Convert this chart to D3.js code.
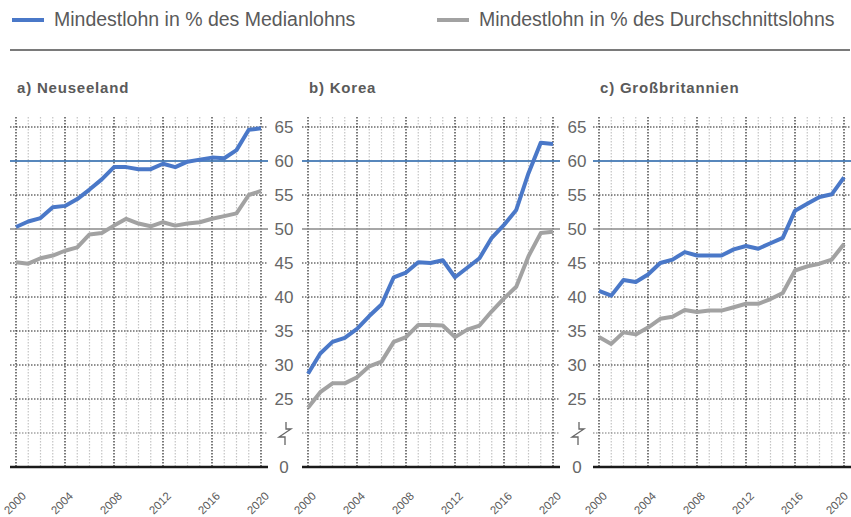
<!DOCTYPE html>
<html>
<head>
<meta charset="utf-8">
<script src="https://cdn.jsdelivr.net/npm/d3@7"></script>
<style>
  body { margin: 0; background: #fff; }
  svg { display: block; }
</style>
</head>
<body>
<svg id="chart" width="851" height="517"></svg>
<script>
document.addEventListener('DOMContentLoaded', () => {
    const svg = d3.select("#chart");

    const years = d3.range(2000, 2021);
    const yearLabels = [2000, 2004, 2008, 2012, 2016, 2020];
    const seriesNames = ["Mindestlohn in % des Medianlohns", "Mindestlohn in % des Durchschnittslohns"];
    const panelTitles = ["a) Neuseeland", "b) Korea", "c) Großbritannien"];

    // values, 2000..2020
    const nzMedian = [50.3, 51.1, 51.6, 53.2, 53.4, 54.4, 55.8, 57.3, 59.1, 59.1, 58.8, 58.8, 59.6, 59.1, 59.9, 60.2, 60.5, 60.4, 61.6, 64.6, 64.8];
    const nzMean   = [45.1, 44.9, 45.7, 46.1, 46.8, 47.3, 49.2, 49.4, 50.5, 51.5, 50.8, 50.4, 51.0, 50.5, 50.8, 51.0, 51.5, 51.9, 52.3, 55.0, 55.6];
    const krMedian = [28.7, 31.7, 33.4, 34.0, 35.3, 37.2, 38.9, 42.9, 43.6, 45.1, 45.0, 45.4, 42.9, 44.3, 45.7, 48.7, 50.6, 52.8, 58.2, 62.7, 62.5];
    const krMean   = [23.7, 26.0, 27.3, 27.3, 28.2, 29.8, 30.5, 33.4, 34.1, 35.9, 35.9, 35.8, 34.1, 35.2, 35.8, 37.9, 39.8, 41.5, 46.0, 49.4, 49.6];
    const gbMedian = [40.9, 40.2, 42.5, 42.2, 43.3, 45.0, 45.5, 46.6, 46.1, 46.1, 46.1, 47.0, 47.5, 47.1, 47.9, 48.7, 52.7, 53.7, 54.7, 55.1, 57.6];
    const gbMean   = [34.1, 33.1, 34.8, 34.5, 35.5, 36.8, 37.1, 38.1, 37.8, 38.0, 38.0, 38.5, 39.0, 39.0, 39.7, 40.6, 43.9, 44.5, 44.9, 45.5, 47.8];

    // axis break: the slot at 15 shows "0", the slot at 20 is the break
    const yTicks = [15, 20, 25, 30, 35, 40, 45, 50, 55, 60, 65];
    const yTickLabel = v => v === 15 ? "0" : v === 20 ? "" : String(v);

    const panels = [
        { title: panelTitles[0], median: nzMedian, mean: nzMean, x0: 16 },
        { title: panelTitles[1], median: krMedian, mean: krMean, x0: 308 },
        { title: panelTitles[2], median: gbMedian, mean: gbMean, x0: 599 }
    ];

    const blue = "#4a78c8";
    const grey = "#a2a2a2";
    const textColor = "#5a5a5a";
    const sans = "'Liberation Sans', Arial, sans-serif";

    const y = d3.scaleLinear().domain([15, 65]).range([467, 127]);
    const plotTop = 117;

    // legend
    const legendItems = [
        { name: seriesNames[0], color: blue, x: 12 },
        { name: seriesNames[1], color: grey, x: 437 }
    ];
    const legend = svg.append("g");
    legendItems.forEach(d => {
        legend.append("line")
            .attr("x1", d.x).attr("x2", d.x + 32)
            .attr("y1", 20).attr("y2", 20)
            .attr("stroke", d.color).attr("stroke-width", 4);
        legend.append("text")
            .attr("x", d.x + 42).attr("y", 26)
            .attr("fill", textColor)
            .style("font-family", sans)
            .style("font-size", "19.5px")
            .text(d.name);
    });
    svg.append("line")
        .attr("x1", 10).attr("x2", 850)
        .attr("y1", 50).attr("y2", 50)
        .attr("stroke", "#7a7a7a").attr("stroke-width", 2);

    panels.forEach(p => {
        const x = d3.scaleLinear().domain([2000, 2020]).range([p.x0, p.x0 + 245]);
        const left = p.x0 - 6, right = p.x0 + 252;
        const g = svg.append("g");

        g.append("text")
            .attr("x", p.x0 + 1).attr("y", 93)
            .attr("fill", textColor)
            .style("font-family", sans)
            .style("font-weight", "bold")
            .style("font-size", "15px")
            .style("letter-spacing", "0.8px")
            .text(p.title);

        // vertical grid, one per year
        g.selectAll(".vgrid").data(years).enter().append("line")
            .attr("x1", d => x(d)).attr("x2", d => x(d))
            .attr("y1", plotTop).attr("y2", y(15))
            .attr("stroke", d => yearLabels.includes(d) ? "#222" : "#c4c4c4")
            .attr("stroke-width", 1.2)
            .attr("stroke-dasharray", "1.5,1.5");

        // horizontal grid
        g.selectAll(".hgrid").data(yTicks.filter(v => v !== 15)).enter().append("line")
            .attr("x1", left).attr("x2", right)
            .attr("y1", d => y(d)).attr("y2", d => y(d))
            .attr("stroke", d => d === 60 ? "#1f5fa6" : d === 50 ? "#8a8a8a" : d === 20 ? "#777" : "#222")
            .attr("stroke-width", d => (d === 60 || d === 50) ? 1.6 : 1.2)
            .attr("stroke-dasharray", d => (d === 60 || d === 50) ? null : "1.5,1.5");

        g.append("line")
            .attr("x1", left).attr("x2", right)
            .attr("y1", y(15)).attr("y2", y(15))
            .attr("stroke", "#1a1a1a").attr("stroke-width", 2.5);

        // year labels, kept inside the canvas
        g.selectAll(".year").data(yearLabels).enter().append("text")
            .attr("transform", d => `translate(${Math.max(15, Math.min(837, x(d) - 3))},${503}) rotate(-45)`)
            .attr("text-anchor", "middle")
            .attr("dy", "0.35em")
            .attr("fill", textColor)
            .style("font-family", sans)
            .style("font-size", "11.5px")
            .text(d => d);

        const line = d3.line()
            .x((d, i) => x(years[i]))
            .y(d => y(d));

        [{ v: p.mean, c: grey }, { v: p.median, c: blue }].forEach(s => {
            g.append("path")
                .datum(s.v)
                .attr("d", line)
                .attr("fill", "none")
                .attr("stroke", s.c)
                .attr("stroke-width", 4)
                .attr("stroke-linejoin", "round");
        });
    });

    // y tick labels sit in the gaps between panels
    [284, 577].forEach(cx => {
        const g = svg.append("g");
        g.selectAll("text").data(yTicks.filter(v => v !== 20)).enter().append("text")
            .attr("x", cx).attr("y", d => y(d))
            .attr("dy", "0.36em")
            .attr("text-anchor", "middle")
            .attr("fill", "#666")
            .style("font-family", sans)
            .style("font-size", "17px")
            .text(yTickLabel);
        // break mark
        const by = y(20);
        g.append("path")
            .attr("d", `M${cx + 2},${by - 11} V${by - 4} H${cx + 7} L${cx - 5},${by + 4} H${cx + 1} V${by + 12}`)
            .attr("fill", "none")
            .attr("stroke", "#666")
            .attr("stroke-width", 1.3);
    });
});
</script>
</body>
</html>
